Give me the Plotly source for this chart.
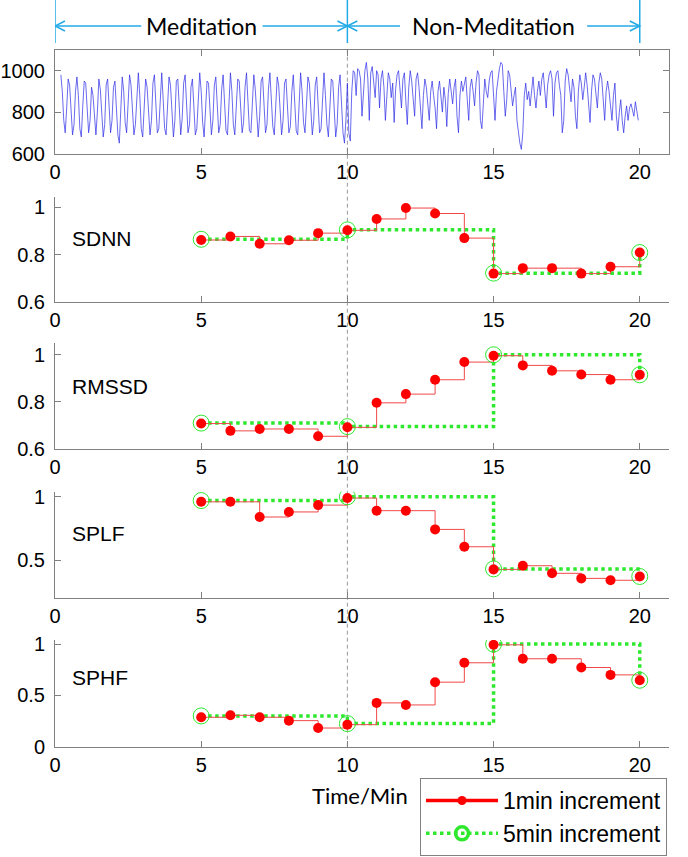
import numpy as np
import plotly.graph_objects as go

# ---------------- data ----------------
minutes = list(range(5, 21))
five_min = [5, 10, 15, 20]

sdnn_1 = [0.862, 0.877, 0.846, 0.861, 0.891, 0.903, 0.951, 0.997, 0.974, 0.870, 0.720, 0.743, 0.743, 0.720, 0.749, 0.809]
sdnn_5 = [0.865, 0.905, 0.722, 0.809]

rmssd_1 = [0.708, 0.677, 0.685, 0.685, 0.654, 0.692, 0.796, 0.833, 0.894, 0.969, 0.996, 0.955, 0.932, 0.916, 0.894, 0.915]
rmssd_5 = [0.710, 0.695, 1.000, 0.915]

splf_1 = [0.960, 0.960, 0.840, 0.880, 0.934, 0.990, 0.890, 0.890, 0.742, 0.605, 0.426, 0.455, 0.395, 0.355, 0.340, 0.370]
splf_5 = [0.970, 1.000, 0.430, 0.370]

sphf_1 = [0.287, 0.306, 0.287, 0.254, 0.182, 0.215, 0.427, 0.407, 0.629, 0.818, 0.993, 0.857, 0.857, 0.772, 0.700, 0.648]
sphf_5 = [0.300, 0.225, 1.000, 0.648]

rr_meditation = [
    980, 900, 760, 700, 820, 960, 930, 800, 690, 740, 900, 970,
    880, 720, 680, 830, 950, 940, 790, 700, 760, 920, 880, 760,
    690, 800, 960, 910, 770, 680, 740, 930, 960, 820, 700, 760,
    920, 950, 800, 690, 650, 820, 970, 900, 750, 700, 860, 980,
    930, 780, 690, 740, 900, 990, 880, 720, 680, 820, 960, 920,
    770, 690, 760, 940, 980, 840, 700, 720, 900, 990, 860, 720,
    690, 830, 970, 930, 780, 680, 760, 950, 960, 800, 690, 770,
    940, 980, 820, 700, 740, 920, 960, 830, 690, 720, 880, 990,
    900, 750, 680, 800, 950, 940, 790, 690, 760, 930, 970, 820,
    700, 740, 910, 980, 860, 710, 690, 860, 990, 900, 740, 690,
    800, 960, 950, 800, 700, 750, 920, 990, 860, 710, 700, 880,
    980, 910, 760, 680, 780, 950, 970, 820, 700, 740, 910, 990,
    880, 730, 690, 830, 970, 930, 780, 690, 760, 940, 960, 810,
    700, 730, 900, 980, 850, 710, 690, 870, 990, 900, 750, 700,
    820, 970, 940, 790, 690, 760, 930, 970, 830, 700, 720, 900,
    990, 880, 740, 680, 800, 960, 950, 790, 680, 740, 920, 980,
    840, 700, 650, 760,
]
rr_non_meditation = [
    940, 700, 660, 900, 1000, 990, 880, 1010, 1000, 960, 780, 900,
    1000, 1040, 960, 760, 990, 1020, 940, 870, 1000, 980, 820, 960,
    1000, 920, 760, 900, 990, 960, 870, 940, 750, 910, 980, 1000,
    900, 820, 960, 990, 850, 740, 920, 1000, 950, 880, 780, 960,
    990, 920, 830, 720, 880, 960, 920, 850, 760, 900, 950, 880,
    820, 720, 900, 950, 880, 800, 920, 860, 730, 890, 960, 900,
    840, 920, 960, 780, 700, 880, 950, 900, 940, 970, 860, 760,
    920, 960, 900, 830, 940, 1000, 980, 760, 720, 880, 960, 900,
    870, 950, 990, 1000, 880, 760, 900, 960, 1010, 1040, 1030, 900,
    780, 860, 1000, 980, 900, 830, 880, 920, 760, 700, 650, 620,
    700, 880, 940, 860, 900, 830, 920, 970, 880, 820, 900, 950,
    880, 960, 990, 900, 820, 930, 980, 1000, 960, 780, 940, 990,
    1000, 930, 880, 700, 760, 950, 1010, 980, 900, 850, 960, 920,
    780, 720, 900, 980, 940, 860, 920, 990, 930, 830, 750, 900,
    980, 960, 880, 820, 940, 990, 960, 860, 760, 900, 950, 900,
    820, 760, 880, 940, 780, 710, 800, 860, 760, 700, 780, 830,
    760, 820, 840, 800, 780, 850, 800, 760,
]
rr_values = rr_meditation + rr_non_meditation
rr_time = np.round(0.2 + 0.05 * np.arange(len(rr_values)), 2)

x_ticks = [0, 5, 10, 15, 20]
panel_names = ["SDNN", "RMSSD", "SPLF", "SPHF"]
one_min_series = [sdnn_1, rmssd_1, splf_1, sphf_1]
five_min_series = [sdnn_5, rmssd_5, splf_5, sphf_5]
y_ranges = [[0.6, 1.045], [0.6, 1.05], [0.2, 1.04], [0.0, 1.04]]
y_ticks = [[0.6, 0.8, 1], [0.6, 0.8, 1], [0.5, 1], [0, 0.5, 1]]
y_ticktext = [["0.6", "0.8", "1"], ["0.6", "0.8", "1"], ["0.5", "1"], ["0", "0.5", "1"]]

# ---------------- layout geometry ----------------
W, H = 688, 857
OFF = 0  # page body margin removed via post_script
def py(p):
    return 1 - (p - OFF) / H
def px(p):
    return (p - OFF) / W

x_dom = [px(55), px(669)]
top_dom = [py(153.5), py(50)]
panel_doms = [[py(302), py(196.7)], [py(449), py(343)], [py(598), py(491.7)], [py(746.7), py(640)]]
label_y = [238, 387, 533, 677]

RED = "#ff0000"
RED_LINE = "#f04848"
GREEN = "#2ee82e"
GRAY = "#808080"
CYAN = "#22aae6"
TICKFONT = dict(family="Liberation Sans, Arial", size=20, color="black")
CAL = "Lato, Carlito, Calibri"

fig = go.Figure()

# top RR panel
fig.add_trace(go.Scatter(x=rr_time, y=rr_values, mode="lines",
                         line=dict(color="#2a2ae6", width=0.7),
                         xaxis="x", yaxis="y", showlegend=False, hoverinfo="skip"))

for i in range(4):
    ax = str(i + 2)
    fig.add_trace(go.Scatter(x=five_min, y=five_min_series[i], mode="lines",
                             line=dict(color=GREEN, width=3.5, dash="dot", shape="hv"),
                             xaxis="x" + ax, yaxis="y" + ax, showlegend=False))
    fig.add_trace(go.Scatter(x=minutes, y=one_min_series[i], mode="lines+markers",
                             line=dict(color=RED_LINE, width=1, shape="hv"),
                             marker=dict(color=RED, size=10),
                             xaxis="x" + ax, yaxis="y" + ax, showlegend=False))
    fig.add_trace(go.Scatter(x=five_min, y=five_min_series[i], mode="markers",
                             marker=dict(symbol="circle-open", color=GREEN, size=16,
                                         line=dict(width=1, color=GREEN)),
                             xaxis="x" + ax, yaxis="y" + ax, showlegend=False))

# legend entries
fig.add_trace(go.Scatter(x=[None], y=[None], mode="lines+markers", name="1min increment",
                         line=dict(color=RED, width=3.5), marker=dict(color=RED, size=9),
                         xaxis="x5", yaxis="y5"))
fig.add_trace(go.Scatter(x=[None], y=[None], mode="lines+markers", name="5min increment",
                         line=dict(color=GREEN, width=3.5, dash="dot"),
                         marker=dict(symbol="circle-open", color=GREEN, size=13,
                                     line=dict(width=3.5, color=GREEN)),
                         xaxis="x5", yaxis="y5"))

common_x = dict(range=[0, 21], tickvals=x_ticks, ticks="inside", ticklen=6, tickcolor=GRAY,
                showline=True, linecolor=GRAY, linewidth=1, showgrid=False, zeroline=False,
                tickfont=TICKFONT, domain=x_dom, fixedrange=True)
common_y = dict(ticks="inside", ticklen=6, tickcolor=GRAY, showline=True, linecolor=GRAY,
                linewidth=1, showgrid=False, zeroline=False, tickfont=TICKFONT,
                ticklabelstandoff=5, fixedrange=True)

layout = dict(
    width=W, height=H, margin=dict(l=0, r=0, t=0, b=0, pad=0, autoexpand=False),
    paper_bgcolor="white", plot_bgcolor="white",
    xaxis=dict(common_x, anchor="y", mirror="allticks"),
    yaxis=dict(common_y, domain=top_dom, range=[600, 1100], tickvals=[600, 800, 1000],
               anchor="x", mirror="allticks"),
    legend=dict(x=px(420), y=py(778), xanchor="left", yanchor="top",
                bordercolor=GRAY, borderwidth=1, bgcolor="white",
                font=dict(family="Liberation Sans, Arial", size=23, color="black"),
                itemwidth=72, tracegroupgap=0),
)
for i in range(4):
    ax = str(i + 2)
    layout["xaxis" + ax] = dict(common_x, anchor="y" + ax)
    layout["yaxis" + ax] = dict(common_y, domain=panel_doms[i], range=y_ranges[i],
                                tickvals=y_ticks[i], ticktext=y_ticktext[i], anchor="x" + ax)
fig.update_layout(**layout)

# dashed divider at 10 min through all panels
fig.add_shape(type="line", xref="x", yref="paper", x0=10, x1=10, y0=py(746.7), y1=py(50),
              line=dict(color="#9a9a9a", width=1, dash="4px,3px"), layer="below")

# header arrows
hy = py(26)
for xv in [0, 10, 20]:
    fig.add_shape(type="line", xref="x", yref="paper", x0=xv, x1=xv, y0=py(43), y1=py(0),
                  line=dict(color=CYAN, width=1.5))
for (a, b) in [(0, 2.95), (7.1, 10), (10, 11.8), (18.2, 20)]:
    fig.add_shape(type="line", xref="x", yref="paper", x0=a, x1=b, y0=hy, y1=hy,
                  line=dict(color=CYAN, width=1.5))
cw, ch = 0.34, 5 / H
def chevron(tip, direction):
    bx = tip - direction * cw
    return f"M {bx},{hy + ch} L {tip},{hy} L {bx},{hy - ch}"
for tip, d in [(0, -1), (10, 1), (10, -1), (20, 1)]:
    fig.add_shape(type="path", xref="x", yref="paper", path=chevron(tip, d),
                  line=dict(color=CYAN, width=1.5))

fig.add_annotation(x=5, y=hy, xref="x", yref="paper", text="Meditation", showarrow=False,
                   yanchor="middle", font=dict(family=CAL, size=23, color="black"))
fig.add_annotation(x=15, y=hy, xref="x", yref="paper", text="Non-Meditation", showarrow=False,
                   yanchor="middle", font=dict(family=CAL, size=23, color="black"))
fig.add_annotation(x=px(360), y=py(795), xref="paper", yref="paper", text="Time/Min",
                   xanchor="center", yanchor="middle", showarrow=False,
                   font=dict(family=CAL, size=22, color="black"))

for i, name in enumerate(panel_names):
    fig.add_annotation(x=px(70), y=py(label_y[i]), xref="paper", yref="paper", text=name,
                       xanchor="left", yanchor="middle", showarrow=False,
                       font=dict(family="Liberation Sans, Arial", size=21, color="black"))

fig.write_html("out.html", config={"displayModeBar": False},
               post_script="document.body.style.margin='0';document.body.style.overflow='hidden';")
